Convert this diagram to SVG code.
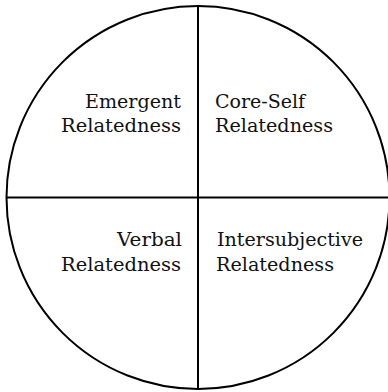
<svg xmlns="http://www.w3.org/2000/svg" width="388" height="392" viewBox="0 0 388 392">
<style>
.ln{stroke:#000;stroke-width:2;fill:none}
.t{font-family:"DejaVu Serif","Liberation Serif",serif;font-size:19px;fill:#111}
.r{text-anchor:end}
</style>
<rect width="388" height="392" fill="#fff"/>
<g id="connectors">
<circle class="ln" cx="198" cy="197.5" r="191.5"/>
<line class="ln" x1="198" y1="6" x2="198" y2="389"/>
<line class="ln" x1="6.5" y1="197.5" x2="389.5" y2="197.5"/>
</g>
<g id="emergent">
<text class="t r" x="181" y="108" textLength="96" lengthAdjust="spacingAndGlyphs">Emergent</text>
<text class="t r" x="181" y="132" textLength="120" lengthAdjust="spacingAndGlyphs">Relatedness</text>
</g>
<g id="coreself">
<text class="t" x="215" y="108" textLength="90" lengthAdjust="spacingAndGlyphs">Core-Self</text>
<text class="t" x="215" y="132" textLength="118" lengthAdjust="spacingAndGlyphs">Relatedness</text>
</g>
<g id="verbal">
<text class="t r" x="182" y="246" textLength="65" lengthAdjust="spacingAndGlyphs">Verbal</text>
<text class="t r" x="181" y="271" textLength="120" lengthAdjust="spacingAndGlyphs">Relatedness</text>
</g>
<g id="intersubjective">
<text class="t" x="217" y="246" textLength="146" lengthAdjust="spacingAndGlyphs">Intersubjective</text>
<text class="t" x="216" y="271" textLength="118" lengthAdjust="spacingAndGlyphs">Relatedness</text>
</g>
</svg>
